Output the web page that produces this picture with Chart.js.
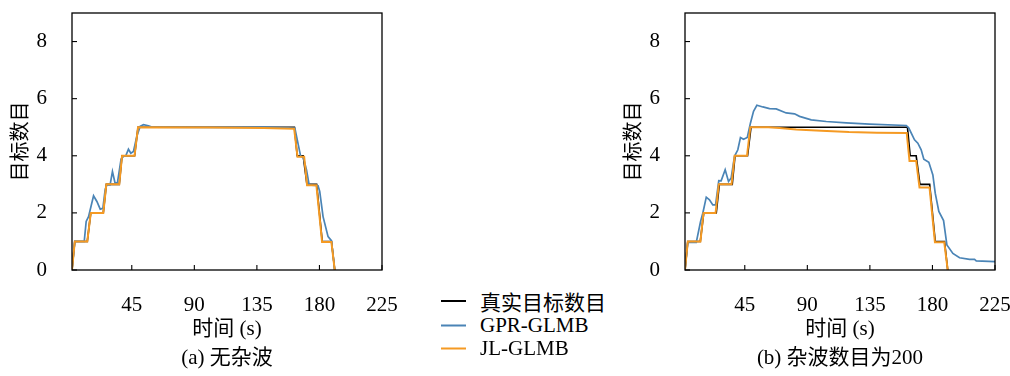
<!DOCTYPE html>
<html><head><meta charset="utf-8">
<script src="https://cdn.jsdelivr.net/npm/chart.js@4"></script>
<style>
body{margin:0;width:1010px;height:376px;background:#fff;position:relative;overflow:hidden;font-family:"Liberation Serif","Noto Sans CJK SC",serif;color:#000;}
.wrap{position:absolute;top:0;width:400px;height:345px;}
#w1{left:0;} #w2{left:613px;}
.cap{position:absolute;font-size:21px;white-space:nowrap;transform:translate(-50%,-50%);}
.leg{position:absolute;left:441px;font-size:21px;white-space:nowrap;display:flex;align-items:center;transform:translateY(-50%);}
.leg span.l{display:inline-block;width:25px;height:2px;margin-right:14px;}
</style></head><body>
<div class="wrap" id="w1"><canvas id="c1"></canvas></div>
<div class="wrap" id="w2"><canvas id="c2"></canvas></div>
<div class="cap" style="left:227px;top:355px">(a) 无杂波</div>
<div class="cap" style="left:840px;top:355px">(b) 杂波数目为200</div>
<div class="leg" style="top:301px"><span class="l" style="background:#000"></span>真实目标数目</div>
<div class="leg" style="top:325px"><span class="l" style="background:#4a84b6"></span>GPR-GLMB</div>
<div class="leg" style="top:348px"><span class="l" style="background:#f59a23"></span>JL-GLMB</div>
<script>
// ---- data ----
const xTicks = [45, 90, 135, 180, 225];
const yTicks = [0, 2, 4, 6, 8];
const seriesNames = ['真实目标数目', 'GPR-GLMB', 'JL-GLMB'];

const truthT = [2,4,13,15.5,24.5,26.7,36,38,47,49.5,162,164,168.3,171,178,182,188.7,191];
const truthN = [0,1,1,2,2,3,3,4,4,5,5,4,4,3,3,1,1,0];

// (a) no clutter
const gprAT = [2,4,10.8,12.2,13.9,17.5,19.9,22.3,24.2,25.9,27.1,29.4,31.1,33,34.7,37.3,39,40.7,42.6,44.3,46.2,48.6,51,53.4,57,60,100,140,162.3,166.5,168.3,170.7,172.6,179,180.2,182.6,186.2,188.6,191];
const gprAN = [0,1,1,1.70,1.87,2.60,2.40,2.13,2.16,2.83,2.98,2.98,3.45,3.04,3.06,3.88,3.98,4.0,4.23,4.09,4.15,4.68,5.03,5.09,5.05,5.0,4.99,5.0,4.97,3.98,3.95,3.5,2.98,2.95,2.75,1.87,1.17,1.03,0];
const jlAT = [2,4,13,15.5,24.5,26.7,36,38,47,49.5,100,140,161.8,164.2,169,171.1,177.8,181.9,188.6,191];
const jlAN = [0,1,1,2,2,3,3,4,4,5,4.99,4.97,4.95,3.97,3.97,2.97,2.97,0.98,0.98,0];

// (b) clutter 200
const gprBT = [2,4,10.1,13.2,14.8,17.3,19.6,22,24,26.3,28,30.9,33.3,35.2,37.6,40,41.9,44.1,46.8,49.1,51.3,53.7,58,62.8,67.6,74.8,80.8,84.4,92.8,103.6,118,134.7,161.2,163,167.1,169.5,171.9,173.8,177.4,180.3,182,184.6,188,190.4,194.7,199.5,206.7,210.3,211.5,225];
const gprBN = [0,0.97,0.97,1.70,1.99,2.55,2.46,2.28,2.28,3.13,3.12,3.51,3.10,3.22,3.98,4.21,4.64,4.58,4.64,5.15,5.56,5.77,5.71,5.65,5.64,5.50,5.47,5.38,5.26,5.20,5.15,5.11,5.06,4.97,4.56,4.44,4.21,3.88,3.77,3.33,2.69,2.05,1.73,0.88,0.58,0.43,0.37,0.37,0.32,0.29];
const jlBT = [2,4,13.1,15.3,24,26.3,35.5,37.7,46.6,49,62,70,82,100,120,140,161.5,163.5,168.3,170.7,177.9,181.8,188.5,191];
const jlBN = [0,1,1,2,2,3,3,4,4,5,5,4.97,4.92,4.88,4.83,4.81,4.80,3.82,3.82,2.89,2.89,0.97,0.97,0];

// ---- drawing ----
const serif = '"Liberation Serif","Noto Sans CJK SC",serif';
const pts = (t, n) => t.map((v, i) => ({x: v, y: n[i]}));

const boxTicks = {
  id: 'boxTicks',
  afterDraw(chart) {
    const {ctx, chartArea: a, scales: {x, y}} = chart;
    ctx.save();
    ctx.strokeStyle = '#000';
    ctx.lineWidth = 1.3;
    ctx.strokeRect(a.left, a.top, a.right - a.left, a.bottom - a.top);
    ctx.lineWidth = 1.1;
    x.ticks.forEach(t => { const p = x.getPixelForValue(t.value); ctx.beginPath(); ctx.moveTo(p, a.bottom); ctx.lineTo(p, a.bottom - 5); ctx.stroke(); });
    y.ticks.forEach(t => { const p = y.getPixelForValue(t.value); ctx.beginPath(); ctx.moveTo(a.left, p); ctx.lineTo(a.left + 5, p); ctx.stroke(); });
    ctx.restore();
  }
};

function makeChart(id, gT, gN, jT, jN) {
  new Chart(document.getElementById(id), {
    type: 'line',
    data: {
      datasets: [
        {label: seriesNames[0], data: pts(truthT, truthN), borderColor: '#000', borderWidth: 1.6, order: 2},
        {label: seriesNames[1], data: pts(gT, gN), borderColor: '#4a84b6', borderWidth: 1.7, order: 1},
        {label: seriesNames[2], data: pts(jT, jN), borderColor: '#f59a23', borderWidth: 2, order: 0}
      ]
    },
    options: {
      responsive: true, maintainAspectRatio: false, animation: false,
      devicePixelRatio: 1,
      layout: {padding: {top: 13, right: 18, left: 0, bottom: 0}},
      elements: {point: {radius: 0}, line: {tension: 0}},
      plugins: {legend: {display: false}, tooltip: {enabled: false}},
      scales: {
        x: {
          type: 'linear', min: 2, max: 225,
          afterBuildTicks: s => { s.ticks = xTicks.map(v => ({value: v})); },
          afterFit: s => { s.height = 75; s.paddingLeft = 0; s.paddingRight = 0; },
          grid: {display: false}, border: {display: false},
          ticks: {font: {family: serif, size: 21}, color: '#000', padding: 15, maxRotation: 0, autoSkip: false},
          title: {display: true, text: '时间 (s)', font: {family: serif, size: 21}, color: '#000', padding: {top: 0, bottom: 3}}
        },
        y: {
          type: 'linear', min: 0, max: 9,
          afterBuildTicks: s => { s.ticks = yTicks.map(v => ({value: v})); },
          afterFit: s => { s.width = 72; s.paddingTop = 0; s.paddingBottom = 0; },
          grid: {display: false}, border: {display: false},
          ticks: {font: {family: serif, size: 21}, color: '#000', padding: 17},
          title: {display: true, text: '目标数目', font: {family: serif, size: 20}, color: '#000', padding: {top: 10, bottom: 0}}
        }
      }
    },
    plugins: [boxTicks]
  });
}
makeChart('c1', gprAT, gprAN, jlAT, jlAN);
makeChart('c2', gprBT, gprBN, jlBT, jlBN);
</script>
</body></html>
